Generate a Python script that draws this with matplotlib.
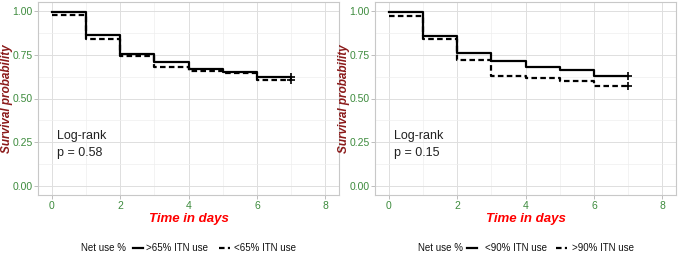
import matplotlib.pyplot as plt
from matplotlib.lines import Line2D

plt.rcParams['font.family'] = ['Liberation Sans', 'DejaVu Sans']

days = [0, 1, 2, 3, 4, 5, 6, 7]

# panel 1: >65% vs <65% ITN use
surv_a1 = [0.992, 0.863, 0.753, 0.710, 0.670, 0.653, 0.620]
surv_b1 = [0.977, 0.839, 0.744, 0.677, 0.657, 0.643, 0.605]
labels1 = [">65% ITN use", "<65% ITN use"]
pval1 = "0.58"

# panel 2: <90% vs >90% ITN use
surv_a2 = [0.992, 0.858, 0.759, 0.715, 0.679, 0.662, 0.626]
surv_b2 = [0.968, 0.837, 0.719, 0.630, 0.619, 0.602, 0.569]
labels2 = ["<90% ITN use", ">90% ITN use"]
pval2 = "0.15"

green = "#3d8b3d"
darkred = "#8b1a1a"
dash = (0, (2.5, 1.5))

fig = plt.figure(figsize=(6.8, 2.57), dpi=100)
W, H = 680, 257


def km_panel(left, surv_a, surv_b, labels, pval, legpos):
    ax = fig.add_axes([left / W, 62 / H, 301 / W, 193 / H])
    for s, ls in [(surv_a, "-"), (surv_b, dash)]:
        ys = s + [s[-1]]
        ax.step(days, ys, where="post", color="black", lw=1.6, linestyle=ls)
        ax.plot(days[-1], s[-1], marker="+", color="black", ms=5.5, mew=1.2)
    ax.set_xlim(-0.4, 8.4)
    ax.set_ylim(-0.05, 1.05)
    ax.set_xticks([0, 2, 4, 6, 8])
    ax.set_xticks([1, 3, 5, 7], minor=True)
    ax.set_yticks([0, 0.25, 0.5, 0.75, 1.0])
    ax.set_yticks([0.125, 0.375, 0.625, 0.875], minor=True)
    ax.set_yticklabels(["0.00", "0.25", "0.50", "0.75", "1.00"])
    ax.grid(which="major", color="#dedede", lw=0.7)
    ax.grid(which="minor", color="#eeeeee", lw=0.5)
    ax.set_axisbelow(True)
    for sp in ax.spines.values():
        sp.set_color("#c8c8c8")
        sp.set_linewidth(0.8)
    ax.tick_params(which="major", colors="#b3b3b3", labelcolor=green,
                   labelsize=7.5, length=3, width=0.6, pad=1)
    ax.tick_params(which="minor", length=0)
    ax.set_xlabel("Time in days", color="red", fontsize=9.5,
                  fontweight="bold", style="italic", labelpad=2)
    ax.set_ylabel("Survival probability", color=darkred, fontsize=8.5,
                  fontweight="bold", style="italic")
    ax.yaxis.set_label_coords(-24.5 / 301, 0.5)
    ax.text(0.15, 0.288, "Log-rank", fontsize=9, va="center", color="#222222")
    ax.text(0.15, 0.19, "p = " + pval, fontsize=9, va="center", color="#222222")

    # legend at the bottom: title, solid key, label, dashed key, label
    x0, h1, t1, h2, t2 = legpos
    yl = 1 - 248 / H
    kw = dict(fontsize=7, va="center", ha="left", color="#111111")
    fig.text(x0 / W, yl, "Net use %", **kw)
    fig.add_artist(Line2D([h1 / W, (h1 + 10) / W], [yl, yl], color="black", lw=1.6))
    fig.text(t1 / W, yl, labels[0], **kw)
    fig.add_artist(Line2D([h2 / W, (h2 + 11) / W], [yl, yl], color="black", lw=1.6,
                          linestyle=dash))
    fig.text(t2 / W, yl, labels[1], **kw)
    return ax


km_panel(38, surv_a1, surv_b1, labels1, pval1, (81, 133, 146, 219, 234))
km_panel(375, surv_a2, surv_b2, labels2, pval2, (418, 467, 485, 556, 572))

fig.savefig("out.png", dpi=100)
